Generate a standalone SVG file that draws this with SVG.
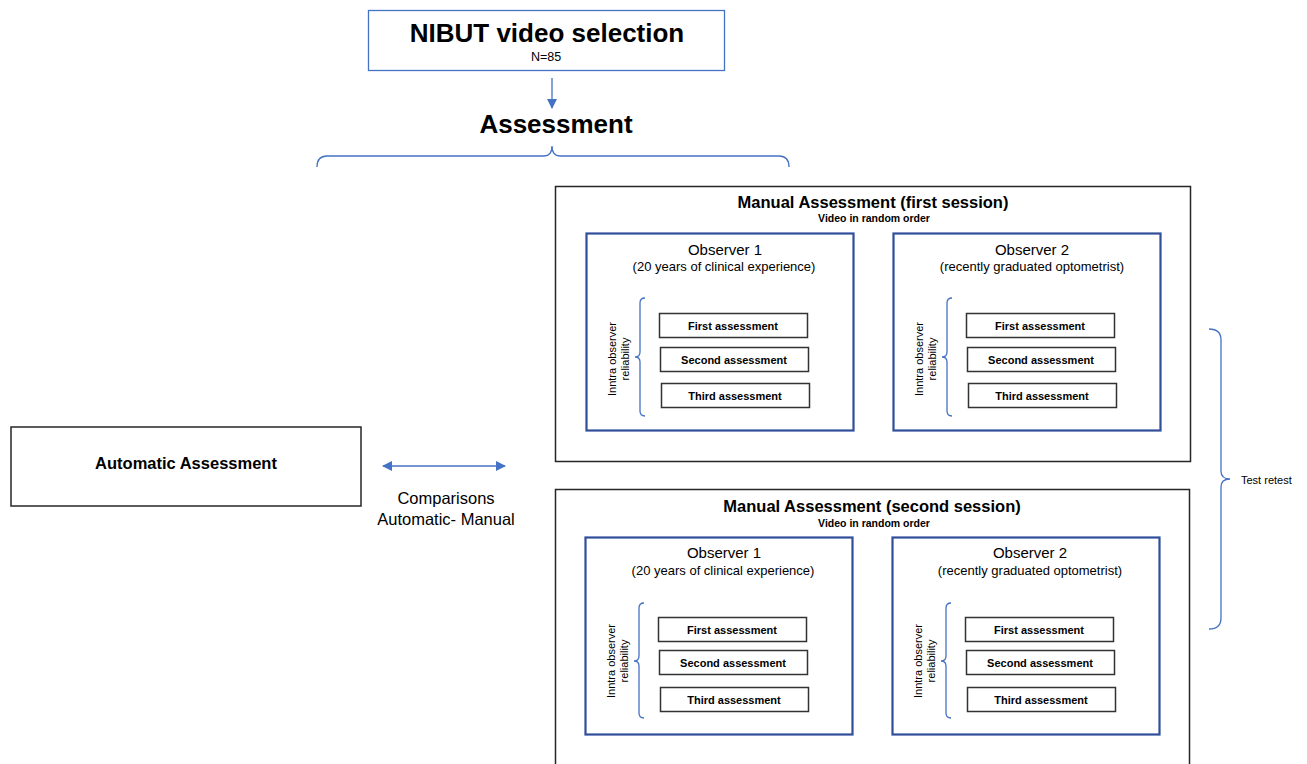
<svg xmlns="http://www.w3.org/2000/svg" width="1307" height="764" viewBox="0 0 1307 764">
<defs>
<style>
text{font-family:"Liberation Sans",Arial,sans-serif;fill:#000}
.b{font-weight:bold}
.blue{fill:none;stroke:#4472C4;stroke-width:1.3}
.outer{fill:#fff;stroke:#262626;stroke-width:1.5}
.obs{fill:none;stroke:#2F4F9A;stroke-width:2.2}
.sm{fill:#fff;stroke:#333;stroke-width:1.5}
.st{font-size:11px;font-weight:bold;text-anchor:middle}
.ot{font-size:15px;text-anchor:middle}
.os{font-size:13px;text-anchor:middle}
.rt{font-size:11px;text-anchor:middle}
</style>
<marker id="ah" markerWidth="10" markerHeight="10" refX="9" refY="5" orient="auto-start-reverse" markerUnits="userSpaceOnUse">
<path d="M0,0 L10,5 L0,10 Z" fill="#4472C4"/>
</marker>
</defs>
<rect width="1307" height="764" fill="#fff"/>

<g id="nibut">
<rect x="368.5" y="10.5" width="356" height="60" fill="#fff" stroke="#4472C4" stroke-width="1.3"/>
<text x="547" y="42" class="b" font-size="26" text-anchor="middle">NIBUT video selection</text>
<text x="546" y="61" font-size="12.5" text-anchor="middle">N=85</text>
</g>

<g id="assessment">
<text x="556" y="133" class="b" font-size="26" text-anchor="middle">Assessment</text>
</g>

<g id="connectors">
<line x1="552" y1="78" x2="552" y2="108" stroke="#4472C4" stroke-width="1.3" marker-end="url(#ah)"/>
<path class="blue" d="M317,167 Q317,156 327,156 L544,156 Q552,156 552,146 Q552,156 560,156 L779,156 Q789,156 789,167"/>
<line x1="383" y1="466" x2="505" y2="466" stroke="#4472C4" stroke-width="1.5" marker-start="url(#ah)" marker-end="url(#ah)"/>
<path class="blue" d="M1209,329 Q1221,329 1221,340 L1221,471 Q1221,479 1230,479 Q1221,479 1221,487 L1221,618 Q1221,629 1209,629"/>
</g>

<g id="automatic">
<rect x="11" y="427" width="350" height="79" class="outer"/>
<text x="186" y="469" class="b" font-size="16.5" text-anchor="middle">Automatic Assessment</text>
</g>

<g id="comparisons">
<text x="446" y="504" font-size="16.5" text-anchor="middle">Comparisons</text>
<text x="446" y="525" font-size="16.5" text-anchor="middle">Automatic- Manual</text>
</g>

<g id="test-retest">
<text x="1241" y="484" font-size="11">Test retest</text>
</g>

<g id="manual-first">
<rect x="555.5" y="186.5" width="635" height="275" class="outer"/>
<text x="873" y="208" class="b" font-size="16.5" text-anchor="middle">Manual Assessment (first session)</text>
<text x="874" y="222" class="b" font-size="10.5" text-anchor="middle">Video in random order</text>
</g>

<g id="obs1-first">
<rect x="586.5" y="233.5" width="267" height="197" class="obs"/>
<text x="725" y="255" class="ot">Observer 1</text>
<text x="724" y="271" class="os">(20 years of clinical experience)</text>
<path class="blue" d="M645,298 Q640,298 640,303 L640,352 Q640,357 635,357 Q640,357 640,362 L640,411 Q640,416 645,416"/>
<text transform="translate(616,359) rotate(-90)" class="rt">Inntra observer</text>
<text transform="translate(628.5,359) rotate(-90)" class="rt">reliability</text>
<rect x="659.5" y="313.5" width="148" height="24" class="sm"/>
<text x="733" y="329.5" class="st">First assessment</text>
<rect x="660.5" y="347.5" width="148" height="24" class="sm"/>
<text x="734" y="363.5" class="st">Second assessment</text>
<rect x="661.5" y="383.5" width="148" height="24" class="sm"/>
<text x="735" y="399.5" class="st">Third assessment</text>
</g>

<g id="obs2-first">
<rect x="893.5" y="233.5" width="267" height="197" class="obs"/>
<text x="1032" y="255" class="ot">Observer 2</text>
<text x="1032" y="271" class="os">(recently graduated optometrist)</text>
<path class="blue" d="M952,298 Q947,298 947,303 L947,352 Q947,357 942,357 Q947,357 947,362 L947,411 Q947,416 952,416"/>
<text transform="translate(923,359) rotate(-90)" class="rt">Inntra observer</text>
<text transform="translate(935.5,359) rotate(-90)" class="rt">reliability</text>
<rect x="966.5" y="313.5" width="148" height="24" class="sm"/>
<text x="1040" y="329.5" class="st">First assessment</text>
<rect x="967.5" y="347.5" width="148" height="24" class="sm"/>
<text x="1041" y="363.5" class="st">Second assessment</text>
<rect x="968.5" y="383.5" width="148" height="24" class="sm"/>
<text x="1042" y="399.5" class="st">Third assessment</text>
</g>

<g id="manual-second">
<rect x="555.5" y="489.5" width="634" height="290" class="outer"/>
<text x="872" y="512" class="b" font-size="16.5" text-anchor="middle">Manual Assessment (second session)</text>
<text x="874" y="527" class="b" font-size="10.5" text-anchor="middle">Video in random order</text>
</g>

<g id="obs1-second">
<rect x="585.5" y="537.5" width="267" height="197" class="obs"/>
<text x="724" y="558" class="ot">Observer 1</text>
<text x="723" y="575" class="os">(20 years of clinical experience)</text>
<path class="blue" d="M644,603 Q639,603 639,608 L639,656 Q639,661 634,661 Q639,661 639,666 L639,713 Q639,718 644,718"/>
<text transform="translate(615,661) rotate(-90)" class="rt">Inntra observer</text>
<text transform="translate(627.5,661) rotate(-90)" class="rt">reliability</text>
<rect x="658.5" y="617.5" width="148" height="24" class="sm"/>
<text x="732" y="633.5" class="st">First assessment</text>
<rect x="659.5" y="650.5" width="148" height="24" class="sm"/>
<text x="733" y="666.5" class="st">Second assessment</text>
<rect x="660.5" y="687.5" width="148" height="24" class="sm"/>
<text x="734" y="703.5" class="st">Third assessment</text>
</g>

<g id="obs2-second">
<rect x="892.5" y="537.5" width="267" height="197" class="obs"/>
<text x="1030" y="558" class="ot">Observer 2</text>
<text x="1030" y="575" class="os">(recently graduated optometrist)</text>
<path class="blue" d="M951,603 Q946,603 946,608 L946,656 Q946,661 941,661 Q946,661 946,666 L946,713 Q946,718 951,718"/>
<text transform="translate(922,661) rotate(-90)" class="rt">Inntra observer</text>
<text transform="translate(934.5,661) rotate(-90)" class="rt">reliability</text>
<rect x="965.5" y="617.5" width="148" height="24" class="sm"/>
<text x="1039" y="633.5" class="st">First assessment</text>
<rect x="966.5" y="650.5" width="148" height="24" class="sm"/>
<text x="1040" y="666.5" class="st">Second assessment</text>
<rect x="967.5" y="687.5" width="148" height="24" class="sm"/>
<text x="1041" y="703.5" class="st">Third assessment</text>
</g>
</svg>
